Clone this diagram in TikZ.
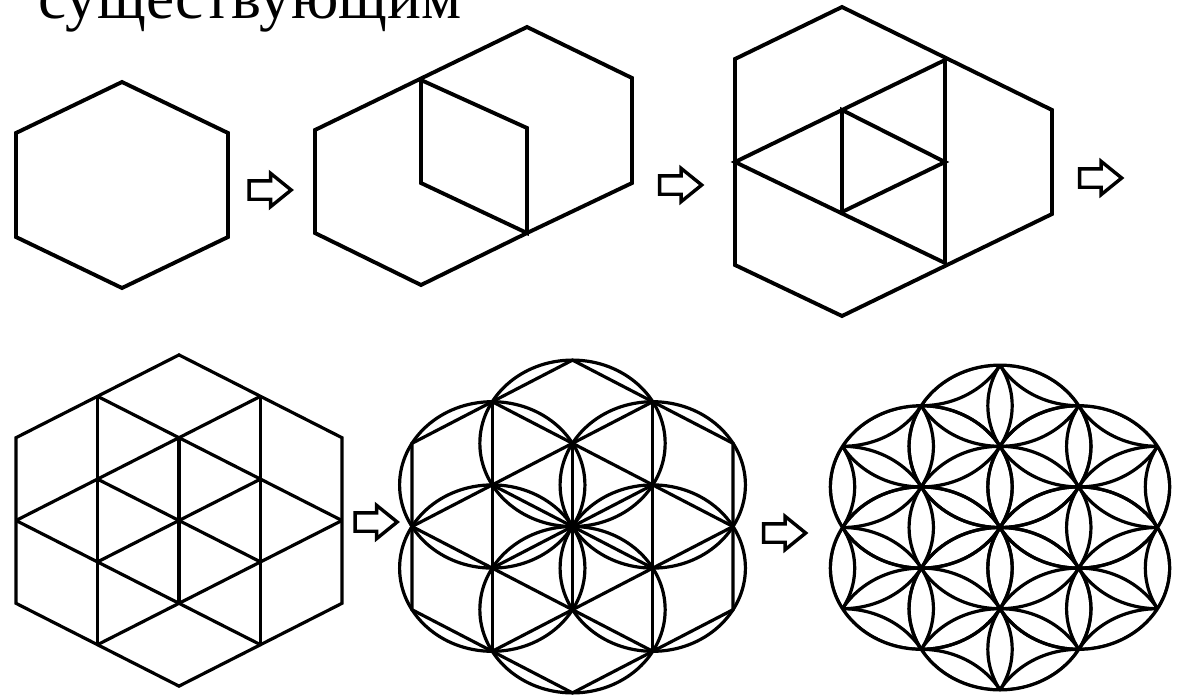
\documentclass[tikz,border=0pt]{standalone}
\usepackage{fontspec}
\setmainfont{Liberation Serif}
\usepackage{tikz}
\usetikzlibrary{shapes.arrows}

\begin{document}
\begin{tikzpicture}[
    x=1pt, y=-1pt,
    hexline/.style={line width=3.9pt,line join=miter,black},
    meshline/.style={line width=3.2pt,line join=miter,black},
    blockarrow/.style={single arrow,draw,line width=3.4pt,minimum height=42pt,
                       single arrow tip angle=78,single arrow head extend=7.5pt,
                       inner xsep=0pt,inner ysep=7.5pt},
  ]
  \useasboundingbox (0,0) rectangle (1182,694);

  % --- heading, cut by the top edge ---
  \node[anchor=base west,inner sep=0pt,font=\fontsize{63.4}{64}\selectfont] (heading) at (38,18.5) {существующим};

  % --- step 1: plain hexagon ---
  \draw[hexline] (122,82) -- (228,133) -- (228,237) -- (122,288) -- (16,237) -- (16,133) -- cycle;

  % --- step 2: first rhombus ---
  \draw[hexline] (527,27) -- (632,78) -- (632,183) -- (527,233) -- (421,285)
                 -- (315,233) -- (315,130) -- cycle;
  \draw[hexline] (421,80) -- (421,183) -- (527,233) -- (527,128) -- cycle;

  % --- step 3: inner rhombi ---
  \draw[hexline] (842,7) -- (1052,110) -- (1052,214) -- (842,316) -- (735,265) -- (735,59) -- cycle;
  \draw[hexline] (735,162) -- (945,60) -- (945,263) -- cycle;
  \draw[hexline] (842,110) -- (842,212) -- (945,162) -- cycle;

  % --- steps 4 and 5: full mesh, same lines at two sizes ---
  \foreach \cx/\cy/\dx/\dy in {179/520.5/81.5/41.4, 572.5/526.5/80.25/41.6} {
    \begin{scope}[shift={(\cx,\cy)}, x=\dx pt, y=\dy pt]
      \draw[meshline] (0,4) -- (1,3) -- (2,2) -- (2,-2) -- (1,-3) -- (0,-4) -- (-1,-3) -- (-2,-2) -- (-2,2) -- (-1,3) -- cycle;
      \draw[meshline] (-1,3) -- (-1,-3);
      \draw[meshline] (1,3) -- (1,-3);
      \draw[meshline] (0,2) -- (0,-2);
      \draw[meshline] (-1,3) -- (2,0);
      \draw[meshline] (-2,0) -- (1,-3);
      \draw[meshline] (-1,1) -- (1,-1);
      \draw[meshline] (1,3) -- (-2,0);
      \draw[meshline] (2,0) -- (-1,-3);
      \draw[meshline] (1,1) -- (-1,-1);
    \end{scope}
  }

  % --- step 5: six circles over the mesh ---
  \begin{scope}[shift={(572.5,526.5)}, x=80.25pt, y=41.6pt]
    \foreach \i/\j in {0/2,1/1,1/-1,0/-2,-1/-1,-1/1} {
      \draw[meshline] (\i,\j) ellipse [x radius=1.1547, y radius=2];
    }
  \end{scope}

  % --- step 6: flower, circles of the lattice cut by the outer ring ---
  \begin{scope}[shift={(1000,527.5)}, x=78.75pt, y=40.6pt]
    \begin{scope}
      \clip (0,2) ellipse [x radius=1.1547, y radius=2]
            (1,1) ellipse [x radius=1.1547, y radius=2]
            (1,-1) ellipse [x radius=1.1547, y radius=2]
            (0,-2) ellipse [x radius=1.1547, y radius=2]
            (-1,-1) ellipse [x radius=1.1547, y radius=2]
            (-1,1) ellipse [x radius=1.1547, y radius=2];
      \foreach \i in {-3,...,3} {
        \foreach \k in {-3,...,3} {
          \draw[meshline] (\i,{2*\k+\i}) ellipse [x radius=1.1547, y radius=2];
        }
      }
    \end{scope}
    \foreach \i/\j in {0/2,1/1,1/-1,0/-2,-1/-1,-1/1} {
      \draw[meshline] (\i,\j) ellipse [x radius=1.1547, y radius=2];
    }
  \end{scope}

  % --- block arrows between the steps ---
  \node[blockarrow] (arrow1) at (264.5,190) {};
  \node[blockarrow] (arrow2) at (675,185) {};
  \node[blockarrow] (arrow3) at (1095,178) {};
  \node[blockarrow] (arrow4) at (370.5,522) {};
  \node[blockarrow] (arrow5) at (779,533) {};

\end{tikzpicture}
\end{document}
